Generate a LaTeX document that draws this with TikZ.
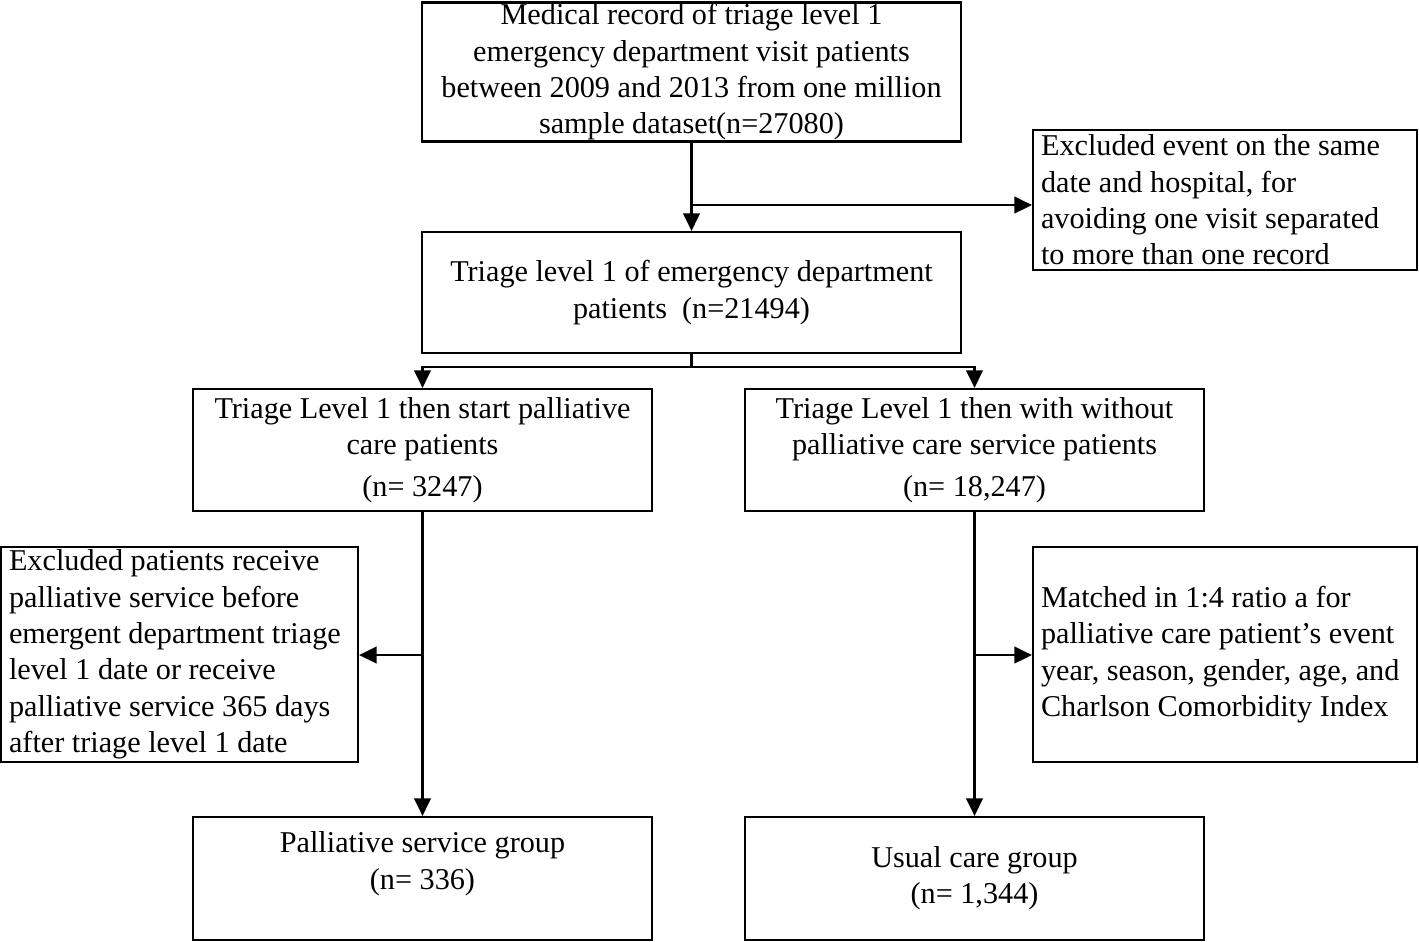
\documentclass[tikz,border=0pt]{standalone}
\usepackage{fontspec}
\setmainfont{Liberation Serif}
\usetikzlibrary{arrows.meta}

\begin{document}
\begin{tikzpicture}[x=.02cm, y=-.02cm,
 box/.style={draw, line width=1.3pt, align=center, inner sep=0pt, font=\fontsize{17.2}{20.7}\selectfont},
 sidebox/.style={box, align=flush left, inner xsep=.16cm, text width=#1},
 flow/.style={line width=1.3pt, -{Triangle[length=10pt, width=9.5pt]}}]
\useasboundingbox (0,0) rectangle (1419,941);
\node[box, minimum width=10.78cm, minimum height=2.78cm] (record) at (691.5,72)
 {Medical record of triage level 1\\ emergency department visit patients\\ between 2009 and 2013 from one million\\ sample dataset(n=27080)};
\node[sidebox=7.36cm, minimum height=2.8cm] (samedate) at (1225,200)
 {Excluded event on the same\\ date and hospital, for\\ avoiding one visit separated\\ to more than one record};
\node[box, minimum width=10.78cm, minimum height=2.42cm] (triage) at (691.5,292.5)
 {Triage level 1 of emergency department\\ patients\ \ (n=21494)};
\node[box, minimum width=9.18cm, minimum height=2.44cm] (palli) at (422.5,450)
 {Triage Level 1 then start palliative\\ care patients\\[3pt] (n= 3247)};
\node[box, minimum width=9.18cm, minimum height=2.44cm] (nonpalli) at (974.5,450)
 {Triage Level 1 then with without\\ palliative care service patients\\[3pt] (n= 18,247)};
\node[sidebox=6.82cm, minimum height=4.3cm] (before) at (179.5,654.5)
 {Excluded patients receive\\ palliative service before\\ emergent department triage\\ level 1 date or receive\\ palliative service 365 days\\ after triage level 1 date};
\node[sidebox=7.36cm, minimum height=4.3cm] (matched) at (1225,654.5)
 {Matched in 1:4 ratio a for\\ palliative care patient's event\\ year, season, gender, age, and\\ Charlson Comorbidity Index};
\node[box, minimum width=9.18cm, minimum height=2.46cm] (pgroup) at (422.5,878.5)
 {Palliative service group\\ (n= 336)\\ ~};
\node[box, minimum width=9.18cm, minimum height=2.46cm] (ugroup) at (974.5,878.5)
 {Usual care group\\ (n= 1,344)};
\coordinate (exA) at (691.5,205);
\coordinate (split) at (691.5,367);
\coordinate (exB) at (422.5,655);
\coordinate (exC) at (974.5,655);
\draw[flow] (record.south) -- (triage.north);
\draw[flow] (exA) -- (exA -| samedate.west);
\draw[line width=1.3pt] (triage.south) -- (split);
\draw[flow] (split) -| (palli.north);
\draw[flow] (split) -| (nonpalli.north);
\draw[flow] (palli.south) -- (pgroup.north);
\draw[flow] (exB) -- (exB -| before.east);
\draw[flow] (nonpalli.south) -- (ugroup.north);
\draw[flow] (exC) -- (exC -| matched.west);
\end{tikzpicture}
\end{document}
